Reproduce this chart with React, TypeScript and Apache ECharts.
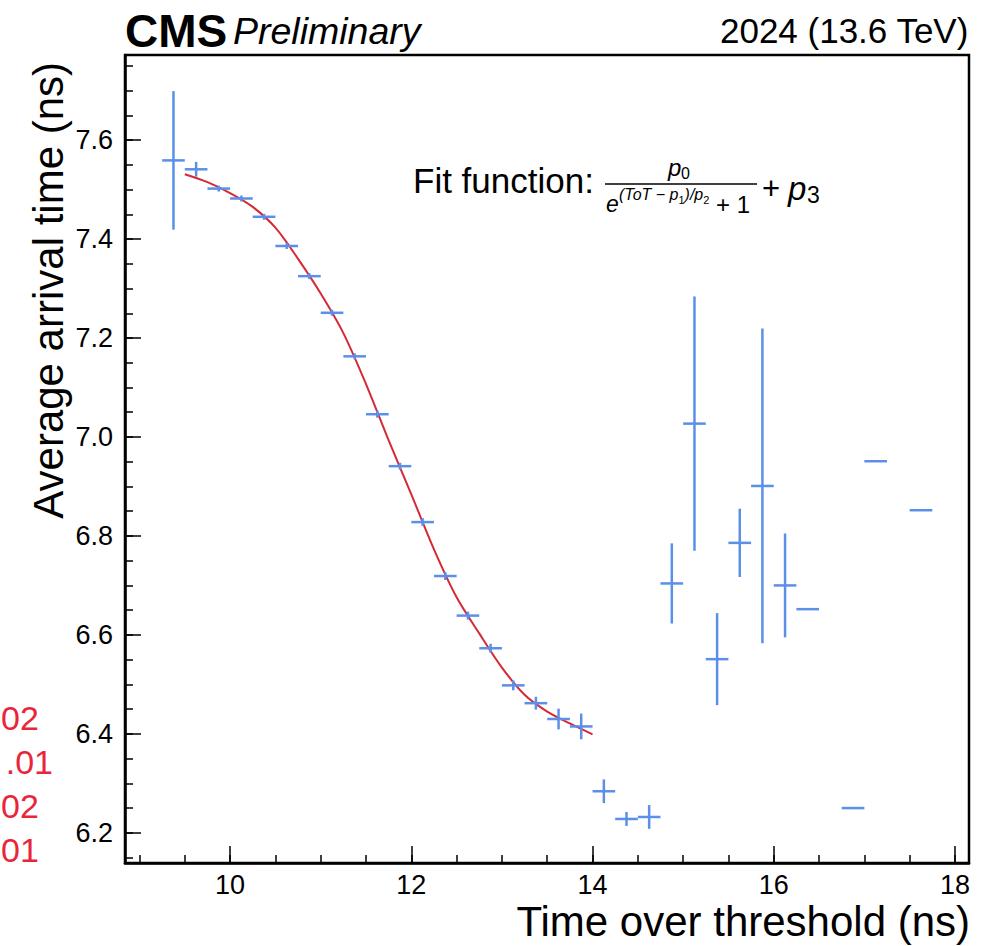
import React, { useEffect, useRef } from "react";
import * as echarts from "echarts";

// ---- data ----
const binCenters = [
  9.375, 9.625, 9.875, 10.125, 10.375, 10.625, 10.875, 11.125, 11.375, 11.625,
  11.875, 12.125, 12.375, 12.625, 12.875, 13.125, 13.375, 13.625, 13.875,
  14.125, 14.375, 14.625, 14.875, 15.125, 15.375, 15.625, 15.875, 16.125,
  16.375, 16.875, 17.125, 17.625,
];
const meanTime = [
  7.559, 7.541, 7.502, 7.482, 7.445, 7.386, 7.325, 7.251, 7.163, 7.046,
  6.941, 6.828, 6.719, 6.639, 6.573, 6.498, 6.462, 6.430, 6.415,
  6.284, 6.228, 6.232, 6.704, 7.027, 6.551, 6.786, 6.901, 6.700,
  6.652, 6.250, 6.951, 6.852,
];
const meanTimeErr = [
  0.14, 0.015, 0.006, 0.006, 0.006, 0.006, 0.006, 0.006, 0.006, 0.007,
  0.007, 0.008, 0.008, 0.008, 0.009, 0.010, 0.013, 0.021, 0.026,
  0.024, 0.014, 0.024, 0.081, 0.257, 0.093, 0.069, 0.318, 0.105,
  0, 0, 0, 0,
];
const binHalfWidth = 0.125;

const fitToT = [
  9.5, 9.75, 10.0, 10.25, 10.5, 10.75, 11.0, 11.25, 11.5, 11.75, 12.0, 12.25,
  12.5, 12.75, 13.0, 13.25, 13.5, 13.75, 14.0,
];
const fitTime = [
  7.531, 7.515, 7.493, 7.465, 7.423, 7.36, 7.29, 7.21, 7.107, 6.993, 6.884,
  6.773, 6.676, 6.603, 6.534, 6.479, 6.445, 6.421, 6.399,
];

const xTickLabels = [10, 12, 14, 16, 18];
const yTickLabels = [6.2, 6.4, 6.6, 6.8, 7.0, 7.2, 7.4, 7.6];
const fitParamTails = ["02", ".01", "02", "01"];

const X_MIN = 8.84;
const X_MAX = 18.155;
const Y_MIN = 6.139;
const Y_MAX = 7.772;

const BLUE = "#5b8fe8";
const RED = "#d42a36";
const FONT = "'Liberation Sans', Arial, Helvetica, sans-serif";

function range(a: number, b: number, step: number, digits: number) {
  const out: number[] = [];
  for (let v = a; v <= b + 1e-9; v += step) out.push(Number(v.toFixed(digits)));
  return out;
}

export default function App() {
  const ref = useRef<HTMLDivElement>(null);

  useEffect(() => {
    document.body.style.margin = "0";
    if (!ref.current) return;
    const chart = echarts.init(ref.current, null, { renderer: "svg" });

    const xMinor = range(9, 18, 0.5, 2);
    const yMinor = range(6.15, 7.75, 0.05, 2);

    const points = binCenters.map((x, i) => [x, meanTime[i], meanTimeErr[i]]);
    const fitData = fitToT.map((x, i) => [x, fitTime[i]]);

    const axisBase = {
      type: "value" as const,
      splitLine: { show: false },
    };

    const txt = (x: number, y: number, text: string, font: string, align = "left") => ({
      type: "text",
      x,
      y,
      style: { text, font, fill: "#000", align, verticalAlign: "middle" },
    });

    const option: any = {
      animation: false,
      backgroundColor: "#ffffff",
      grid: {
        left: 125,
        right: 21,
        top: 55,
        bottom: 83,
        show: true,
        borderColor: "#000",
        borderWidth: 2.5,
        backgroundColor: "transparent",
      },
      xAxis: [
        {
          ...axisBase,
          min: X_MIN,
          max: X_MAX,
          position: "bottom",
          axisLine: { show: true, lineStyle: { color: "#000", width: 2.5 } },
          axisTick: {
            show: true,
            inside: true,
            length: 17,
            customValues: xTickLabels,
            lineStyle: { color: "#000", width: 1.5 },
          },
          axisLabel: {
            show: true,
            customValues: xTickLabels,
            formatter: (v: number) => String(v),
            fontSize: 27,
            color: "#000",
            fontFamily: FONT,
            margin: 8,
          },
        },
        {
          ...axisBase,
          min: X_MIN,
          max: X_MAX,
          position: "bottom",
          axisLine: { show: false },
          axisTick: {
            show: true,
            inside: true,
            length: 8,
            customValues: xMinor,
            lineStyle: { color: "#000", width: 1.5 },
          },
          axisLabel: { show: false },
        },
      ],
      yAxis: [
        {
          ...axisBase,
          min: Y_MIN,
          max: Y_MAX,
          position: "left",
          axisLine: { show: true, lineStyle: { color: "#000", width: 2.5 } },
          axisTick: {
            show: true,
            inside: true,
            length: 16,
            customValues: yTickLabels,
            lineStyle: { color: "#000", width: 1.5 },
          },
          axisLabel: {
            show: true,
            customValues: yTickLabels,
            formatter: (v: number) => v.toFixed(1),
            fontSize: 27,
            color: "#000",
            fontFamily: FONT,
            margin: 12,
          },
        },
        {
          ...axisBase,
          min: Y_MIN,
          max: Y_MAX,
          position: "left",
          axisLine: { show: false },
          axisTick: {
            show: true,
            inside: true,
            length: 8,
            customValues: yMinor,
            lineStyle: { color: "#000", width: 1.5 },
          },
          axisLabel: { show: false },
        },
      ],
      series: [
        {
          type: "line",
          data: fitData,
          xAxisIndex: 0,
          yAxisIndex: 0,
          showSymbol: false,
          smooth: 0.3,
          lineStyle: { color: RED, width: 2 },
          z: 3,
        },
        {
          type: "custom",
          data: points,
          xAxisIndex: 0,
          yAxisIndex: 0,
          encode: { x: 0, y: 1 },
          z: 4,
          renderItem: (_params: any, api: any) => {
            const x = api.value(0);
            const y = api.value(1);
            const e = api.value(2);
            const l = api.coord([x - binHalfWidth, y]);
            const r = api.coord([x + binHalfWidth, y]);
            const children: any[] = [
              {
                type: "line",
                shape: { x1: l[0], y1: l[1], x2: r[0], y2: r[1] },
                style: { stroke: BLUE, lineWidth: 2.5 },
              },
            ];
            if (e > 0) {
              const t = api.coord([x, y + e]);
              const b = api.coord([x, y - e]);
              children.push({
                type: "line",
                shape: { x1: t[0], y1: t[1], x2: b[0], y2: b[1] },
                style: { stroke: BLUE, lineWidth: 2.5 },
              });
            }
            return { type: "group", children };
          },
        },
      ],
      graphic: [
        {
          type: "text",
          left: 125,
          top: 8,
          style: { text: "CMS", font: `bold 46px ${FONT}`, fill: "#000" },
        },
        {
          type: "text",
          left: 233,
          top: 12,
          style: { text: "Preliminary", font: `italic 37.5px ${FONT}`, fill: "#000" },
        },
        {
          type: "text",
          right: 21,
          top: 13,
          style: { text: "2024 (13.6 TeV)", font: `35px ${FONT}`, fill: "#000" },
        },
        {
          type: "text",
          right: 20,
          top: 900,
          style: { text: "Time over threshold (ns)", font: `42px ${FONT}`, fill: "#000" },
        },
        {
          type: "text",
          x: 48,
          y: 62,
          rotation: Math.PI / 2,
          style: {
            text: "Average arrival time (ns)",
            font: `42px ${FONT}`,
            fill: "#000",
            align: "right",
            verticalAlign: "middle",
          },
        },
        // fit function label
        txt(413, 180, "Fit function:", `35px ${FONT}`),
        {
          type: "line",
          shape: { x1: 605, y1: 184, x2: 757, y2: 184 },
          style: { stroke: "#000", lineWidth: 1.5 },
        },
        txt(668, 167, "p", `italic 24px ${FONT}`),
        txt(681, 173, "0", `16px ${FONT}`),
        txt(606, 204, "e", `italic 23px ${FONT}`),
        {
          type: "text",
          x: 619,
          y: 194,
          style: {
            text: "{a|(ToT − p}{b|1}{a|)/p}{b|2}",
            fill: "#000",
            align: "left",
            verticalAlign: "middle",
            rich: {
              a: { fontSize: 16, fontStyle: "italic", fontFamily: FONT, lineHeight: 22, verticalAlign: "middle" },
              b: { fontSize: 11, fontFamily: FONT, lineHeight: 22, verticalAlign: "bottom" },
            },
          },
        },
        txt(716, 204, "+ 1", `24px ${FONT}`),
        txt(762, 188, "+", `31px ${FONT}`),
        txt(788, 188, "p", `italic 33px ${FONT}`),
        txt(807, 195, "3", `23px ${FONT}`),
        // clipped fit parameter values on the left edge
        ...fitParamTails.map((t, i) => ({
          type: "text",
          x: i === 1 ? 53 : 1,
          y: 718 + i * 44,
          style: {
            text: t,
            font: `34px ${FONT}`,
            fill: "#e8253b",
            align: i === 1 ? "right" : "left",
            verticalAlign: "middle",
          },
        })),
      ],
    };

    chart.setOption(option);
    return () => chart.dispose();
  }, []);

  return <div ref={ref} style={{ width: 990, height: 946 }} />;
}
